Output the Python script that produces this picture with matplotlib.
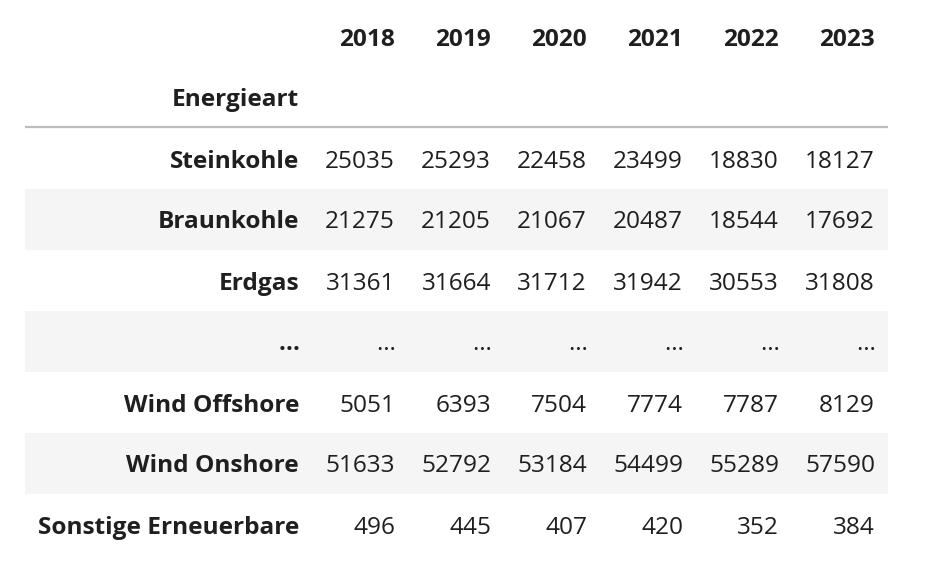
import matplotlib.pyplot as plt
from matplotlib.patches import Rectangle

plt.rcParams['font.family'] = ['Open Sans', 'DejaVu Sans']

years = ['2018', '2019', '2020', '2021', '2022', '2023']
index_name = 'Energieart'
rows = ['Steinkohle', 'Braunkohle', 'Erdgas', '...', 'Wind Offshore', 'Wind Onshore', 'Sonstige Erneuerbare']
steinkohle = [25035, 25293, 22458, 23499, 18830, 18127]
braunkohle = [21275, 21205, 21067, 20487, 18544, 17692]
erdgas = [31361, 31664, 31712, 31942, 30553, 31808]
ellipsis = ['...'] * 6
wind_offshore = [5051, 6393, 7504, 7774, 7787, 8129]
wind_onshore = [51633, 52792, 53184, 54499, 55289, 57590]
sonstige = [496, 445, 407, 420, 352, 384]
values = [steinkohle, braunkohle, erdgas, ellipsis, wind_offshore, wind_onshore, sonstige]

fig = plt.figure(figsize=(9.51, 5.67), dpi=100)
ax = fig.add_axes([0, 0, 1, 1])
ax.set_xlim(0, 951)
ax.set_ylim(567, 0)
ax.axis('off')

txt = '#1f1f1f'
fs = 17.6
left, right = 25, 888
label_x = 299
col_x = [395 + 96 * i for i in range(6)]
row_top = 128
row_h = 61

# header
for x, y in zip(col_x, years):
    ax.text(x, 39.5, y, ha='right', va='center', fontsize=fs, fontweight='bold', color=txt)
ax.text(label_x, 99.5, index_name, ha='right', va='center', fontsize=fs, fontweight='bold', color=txt)
ax.plot([left, right], [127, 127], color='#bdbdbd', lw=1.6, solid_capstyle='butt')

# body
for i, (name, vals) in enumerate(zip(rows, values)):
    top = row_top + i * row_h
    if i % 2 == 1:
        ax.add_patch(Rectangle((left, top), right - left, row_h, color='#f5f5f5', lw=0))
    cy = top + row_h / 2 + 3
    ax.text(label_x, cy, '…' if name == '...' else name, ha='right', va='center',
            fontsize=fs, fontweight='bold', color=txt)
    for x, v in zip(col_x, vals):
        ax.text(x, cy, '…' if v == '...' else str(v), ha='right', va='center',
                fontsize=fs, color=txt)

fig.savefig('out.png', dpi=100)
